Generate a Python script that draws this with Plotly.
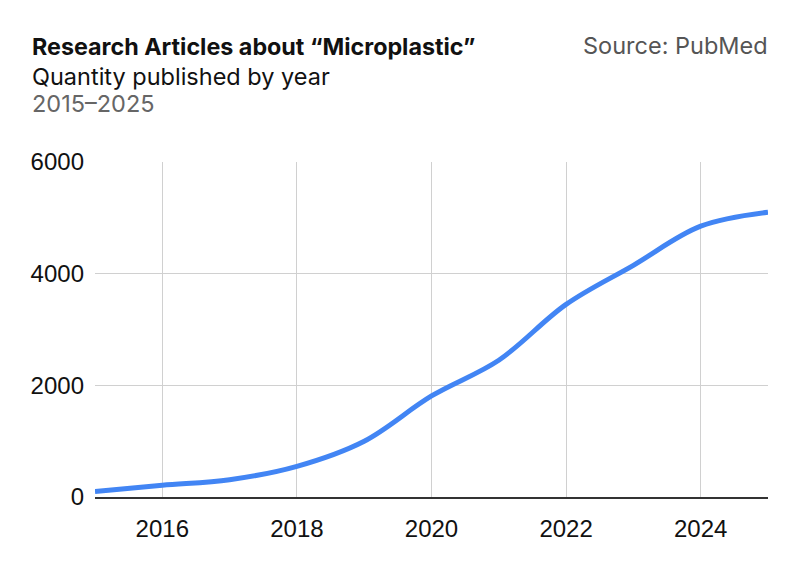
import plotly.graph_objects as go

years = [2015, 2016, 2017, 2018, 2019, 2020, 2021, 2022, 2023, 2024, 2025]
articles = [100, 210, 310, 550, 1000, 1810, 2450, 3450, 4150, 4850, 5100]

title = "Research Articles about “Microplastic”"
subtitle = "Quantity published by year"
period = "2015–2025"
source = "Source: PubMed"

W, H = 800, 564
L, R, T, B = 95, 32, 162, 67
pw, ph = W - L - R, H - T - B

def px(x):
    return (x - L) / pw

def py(y):
    return (H - B - y) / ph

fig = go.Figure()
fig.add_trace(go.Scatter(
    x=years, y=articles, mode="lines",
    line=dict(color="#4285F4", width=5, shape="spline", smoothing=1.0),
    hoverinfo="x+y", showlegend=False, cliponaxis=True,
))

ann = [
    dict(text="<b>" + title + "</b>", x=px(30), y=py(47), xanchor="left", yanchor="middle",
         font=dict(family="Inter", size=23.3, color="#111111")),
    dict(text=subtitle, x=px(30), y=py(76), xanchor="left", yanchor="middle",
         font=dict(family="Inter", size=23.5, color="#111111")),
    dict(text=period, x=px(30), y=py(103.5), xanchor="left", yanchor="middle",
         font=dict(family="Inter", size=23.5, color="#666666")),
    dict(text=source, x=px(770), y=py(46), xanchor="right", yanchor="middle",
         font=dict(family="Inter", size=23.5, color="#555555")),
]
for a in ann:
    a.update(xref="paper", yref="paper", showarrow=False)

fig.update_layout(
    width=W, height=H,
    margin=dict(l=L, r=R, t=T, b=B),
    paper_bgcolor="white", plot_bgcolor="white",
    annotations=ann,
    xaxis=dict(range=[2015, 2025], tickvals=[2016, 2018, 2020, 2022, 2024],
               showgrid=True, gridcolor="#d0d0d0", gridwidth=1,
               showline=True, linecolor="#333333", linewidth=2,
               zeroline=False, ticks="", ticklabelstandoff=9,
               tickfont=dict(family="Liberation Sans", size=24, color="#111111")),
    yaxis=dict(range=[0, 6000], tickvals=[0, 2000, 4000, 6000],
               showgrid=True, gridcolor="#d0d0d0", gridwidth=1,
               zeroline=False, showline=False, ticks="", ticklabelstandoff=10,
               tickfont=dict(family="Liberation Sans", size=24, color="#111111")),
)

fig.write_html("out.html")
